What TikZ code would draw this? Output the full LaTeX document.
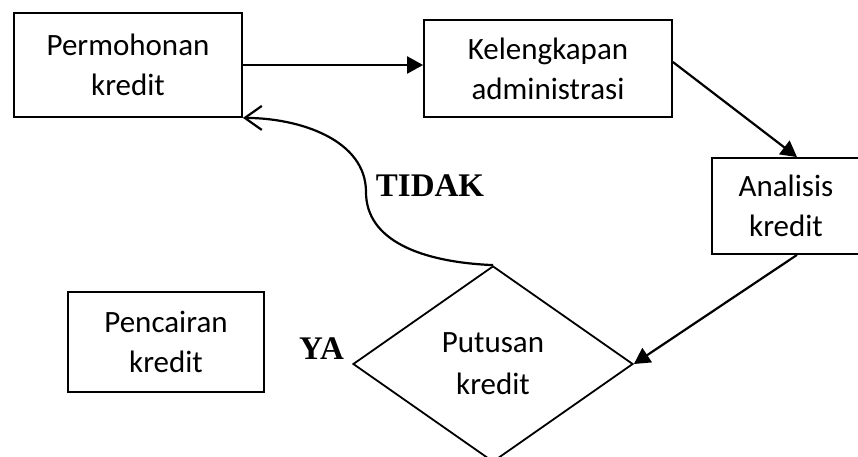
\documentclass[tikz,border=0pt]{standalone}
\usepackage{fontspec}
\setmainfont{Carlito}
\newfontfamily\tnr{Liberation Serif}
\usetikzlibrary{arrows.meta,shapes.geometric}
\begin{document}
\begin{tikzpicture}[x=0.5pt,y=-0.5pt,
  box/.style={draw,line width=0.9pt,align=center,inner sep=0pt,
    font=\fontsize{15.5pt}{20pt}\selectfont},
  dec/.style={diamond,draw,line width=0.9pt,align=center,inner sep=0pt,
    minimum width=140pt,minimum height=98pt,
    font=\fontsize{15.5pt}{21pt}\selectfont},
  lbl/.style={font=\tnr\bfseries\fontsize{16.5pt}{20pt}\selectfont,inner sep=0pt},
  conn/.style={line width=1.1pt,-{Triangle[length=8pt,width=8.5pt]}},
  back/.style={line width=1.1pt,-{Straight Barb[length=8.5pt,width=12pt,line width=1.1pt]}}]
\useasboundingbox (0,0) rectangle (858,456);
\node[box,minimum width=114pt,minimum height=52pt] (perm) at (128,65) {Permohonan\\kredit};
\node[box,minimum width=124pt,minimum height=48.5pt] (kel) at (548,68.5) {Kelengkapan\\administrasi};
\node[box,minimum width=74pt,minimum height=48pt] (anal) at (786,206) {Analisis\\kredit};
\node[box,minimum width=98pt,minimum height=50pt] (penc) at (166,342) {Pencairan\\kredit};
\node[dec] (dia) at (493,364) {Putusan\\kredit};
\node[lbl] (tidak) at (430,186) {TIDAK};
\node[lbl] (ya) at (321.5,348.5) {YA};
\draw[conn] (perm.east |- 0,65) -- (kel.west |- 0,65);
\draw[conn] ([yshift=3.25pt]kel.east) -- ([xshift=5.5pt]anal.north);
\draw[conn] ([xshift=5.5pt]anal.south) -- (dia.east);
\coordinate (mid) at (366,192);
\draw[back] (dia.north) .. controls (420,262) and (366,240) .. (mid)
  .. controls (366,140) and (300,118) .. (perm.south east);
\end{tikzpicture}
\end{document}
